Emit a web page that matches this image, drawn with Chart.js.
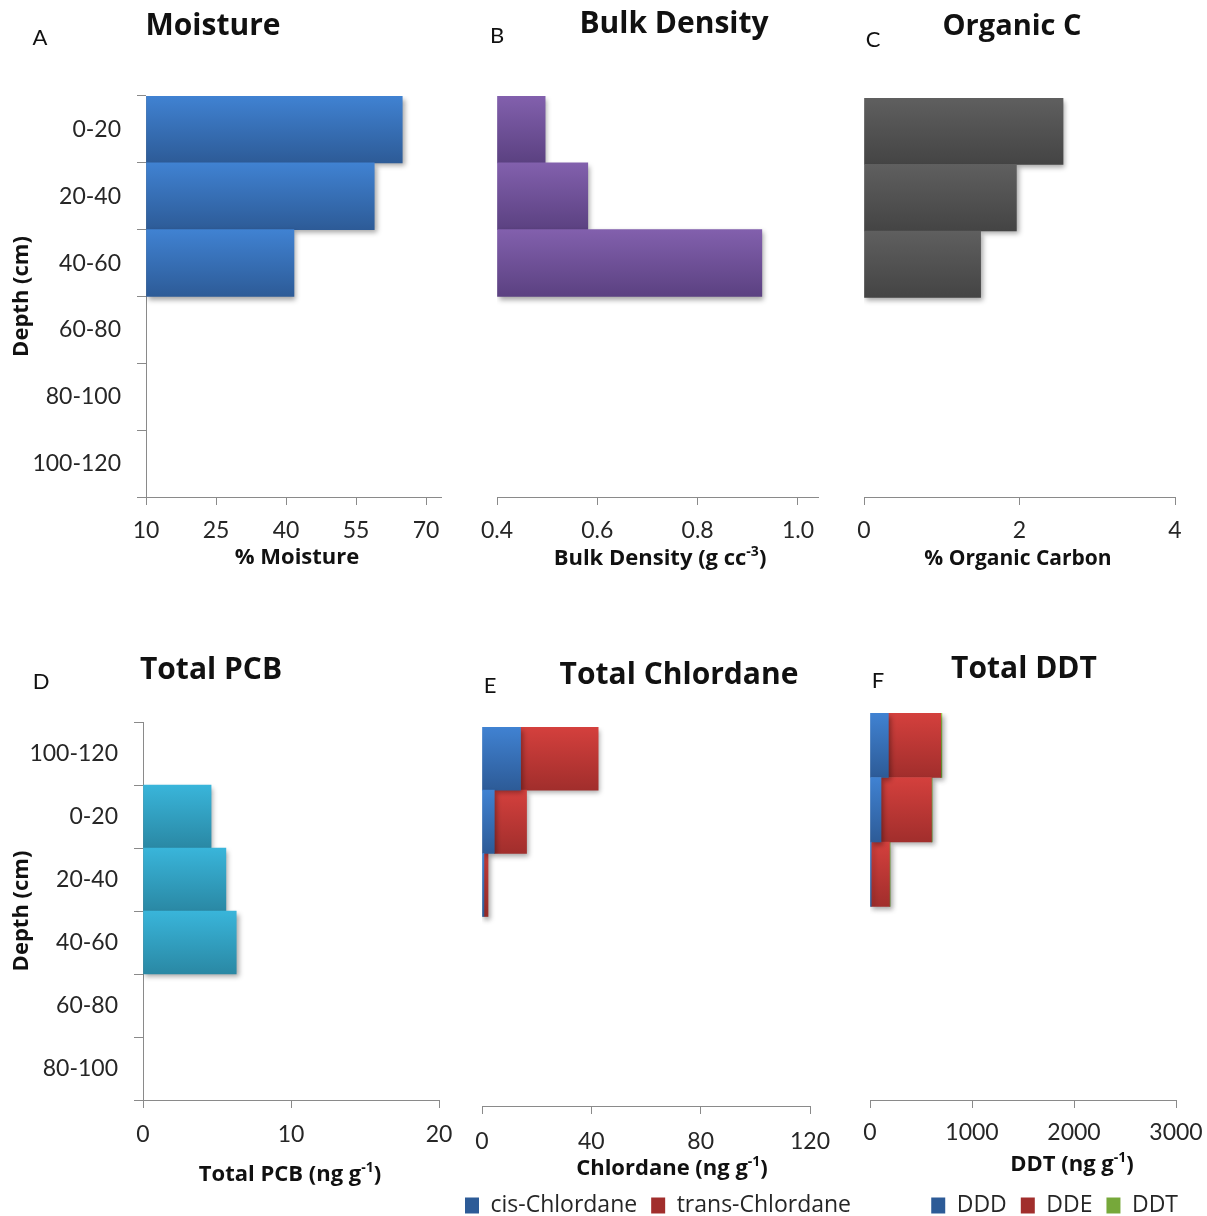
<!DOCTYPE html>
<html>
<head>
<meta charset="utf-8">
<title>Soil core profiles</title>
<script src="https://cdn.jsdelivr.net/npm/chart.js@4.4.0/dist/chart.umd.min.js"></script>
<style>
  html, body { margin: 0; padding: 0; background: #fff; width: 1207px; height: 1216px; overflow: hidden; position: relative; }
  canvas { position: absolute; display: block; }
</style>
</head>
<body>
<canvas id="panelA" width="460" height="600" style="left:0;top:0;width:460px;height:600px"></canvas>
<canvas id="panelB" width="380" height="600" style="left:460px;top:0;width:380px;height:600px"></canvas>
<canvas id="panelC" width="367" height="600" style="left:840px;top:0;width:367px;height:600px"></canvas>
<canvas id="panelD" width="470" height="596" style="left:0;top:620px;width:470px;height:596px"></canvas>
<canvas id="panelE" width="436" height="620" style="left:440px;top:620px;width:436px;height:620px"></canvas>
<canvas id="panelF" width="366" height="620" style="left:850px;top:620px;width:366px;height:620px"></canvas>
<script>
// ---- data ----
const depthLabels = ['0-20', '20-40', '40-60', '60-80', '80-100', '100-120'];
const pcbDepthLabels = ['100-120', '0-20', '20-40', '40-60', '60-80', '80-100'];

const moisture = [64.9, 58.9, 41.7, null, null, null];           // % moisture
const bulkDensity = [0.496, 0.581, 0.928, null, null, null];      // g cc-3
const organicCarbon = [2.56, 1.96, 1.50, null, null, null];       // %
const totalPCB = [null, 4.6, 5.6, 6.3, null, null];               // ng g-1
const cisChlordane = [14.1, 4.5, 0.7, null, null, null];          // ng g-1
const transChlordane = [28.4, 11.8, 1.5, null, null, null];       // ng g-1
const dddValues = [180, 108, 12, null, null, null];               // ng g-1
const ddeValues = [513, 494, 178, null, null, null];              // ng g-1
const ddtValues = [12, 8, 8, null, null, null];                   // ng g-1

const moistureTicks = [10, 25, 40, 55, 70];
const densityTicks = [0.4, 0.6, 0.8, 1.0];
const carbonTicks = [0, 2, 4];
const pcbTicks = [0, 10, 20];
const chlordaneTicks = [0, 40, 80, 120];
const ddtTicks = [0, 1000, 2000, 3000];

// ---- styling ----
const FONT = 'Lato, "Open Sans", "DejaVu Sans", sans-serif';
const BOLD_FONT = '"Open Sans", Lato, "DejaVu Sans", sans-serif';
const AXIS = '#8a8a8a';
const TICK = '#262626';
Chart.defaults.font.family = FONT;
Chart.defaults.color = TICK;
Chart.defaults.animation = false;

const BLUE = ['#4082d2', '#2d5b97'];
const PURPLE = ['#8260ad', '#5b4181'];
const GREY = ['#5f5f5f', '#444444'];
const CYAN = ['#39b5da', '#2a88a4'];
const RED = ['#d4403d', '#a12e2c'];
const GREEN = ['#9ed050', '#76a83a'];

// vertical shading across each bar's category band
function barFill(colors) {
  return (c) => {
    const chart = c.chart;
    const ys = chart.scales && chart.scales.y;
    if (!ys || c.dataIndex === undefined || !chart.chartArea) return colors[0];
    const center = ys.getPixelForValue(c.dataIndex);
    const half = Math.abs(ys.getPixelForValue(1) - ys.getPixelForValue(0)) / 2;
    const g = chart.ctx.createLinearGradient(0, center - half, 0, center + half);
    g.addColorStop(0, colors[0]);
    g.addColorStop(1, colors[1]);
    return g;
  };
}

// soft drop shadow under the bars
const barShadow = {
  id: 'barShadow',
  beforeDatasetsDraw(chart) {
    const ctx = chart.ctx;
    ctx.save();
    ctx.shadowColor = 'rgba(0,0,0,0.35)';
    ctx.shadowBlur = 5;
    ctx.shadowOffsetX = 2;
    ctx.shadowOffsetY = 3;
  },
  afterDatasetsDraw(chart) { chart.ctx.restore(); }
};

// panel titles, panel letters and axis titles (with superscripts)
function textPlugin(items) {
  return {
    id: 'panelText',
    afterDraw(chart) {
      const ctx = chart.ctx;
      items.forEach(it => {
        const parts = it.parts || [{ t: it.text }];
        const family = it.bold ? BOLD_FONT : FONT;
        const weight = it.bold ? '700 ' : '400 ';
        const fontFor = p => weight + Math.round(p.sup ? it.size * 0.62 : it.size) + 'px ' + family;
        ctx.save();
        ctx.fillStyle = it.color || '#111';
        ctx.textBaseline = 'middle';
        ctx.textAlign = 'left';
        let total = 0;
        const widths = parts.map(p => {
          ctx.font = fontFor(p);
          const w = ctx.measureText(p.t).width;
          total += w;
          return w;
        });
        let x = it.x - total / 2;
        parts.forEach((p, i) => {
          ctx.font = fontFor(p);
          ctx.fillText(p.t, x, p.sup ? it.y - it.size * 0.32 : it.y);
          x += widths[i];
        });
        ctx.restore();
      });
    }
  };
}

function barSet(label, data, colors, base) {
  const ds = {
    label: label,
    data: data,
    backgroundColor: barFill(colors),
    borderWidth: 0,
    barPercentage: 1,
    categoryPercentage: 1
  };
  if (base !== undefined) ds.base = base;
  return ds;
}

function valueAxis(min, max, tickValues, fmt, height, tickPad, stacked) {
  return {
    type: 'linear',
    min: min,
    max: max,
    stacked: !!stacked,
    afterBuildTicks: s => { s.ticks = tickValues.map(v => ({ value: v })); },
    grid: { drawOnChartArea: false, drawTicks: true, tickLength: 8, color: AXIS, lineWidth: 1 },
    border: { display: true, color: AXIS, width: 1 },
    ticks: { padding: tickPad, font: { size: 23 }, color: TICK, maxRotation: 0, autoSkip: false, callback: v => fmt(v) },
    afterFit: s => { s.height = height; }
  };
}

// labelled depth axis on the left
function depthAxis(width, stacked) {
  return {
    type: 'category',
    stacked: !!stacked,
    offset: true,
    grid: { offset: true, drawOnChartArea: false, drawTicks: true, tickLength: 9, color: AXIS, lineWidth: 1 },
    border: { display: true, color: AXIS, width: 1 },
    ticks: { padding: 16, font: { size: 23 }, color: TICK, autoSkip: false },
    title: { display: true, text: 'Depth (cm)', font: { family: BOLD_FONT, size: 22, weight: 'bold' }, color: '#111', padding: { top: 9, bottom: 0 } },
    afterFit: s => { s.width = width; }
  };
}

// unlabelled depth axis: keeps the bands, draws nothing, reserves a margin
function hiddenDepthAxis(width, stacked) {
  return {
    type: 'category',
    stacked: !!stacked,
    offset: true,
    grid: { display: false, drawTicks: false },
    border: { display: false },
    ticks: { display: false },
    afterFit: s => { s.width = width; }
  };
}

// empty right-hand margin so the value axis ends where it should
function rightMargin(width) {
  return {
    type: 'linear',
    axis: 'y',
    position: 'right',
    grid: { display: false, drawTicks: false },
    border: { display: false },
    ticks: { display: false },
    afterFit: s => { s.width = width; }
  };
}

const legendOpts = (align) => ({
  display: true,
  position: 'bottom',
  align: align,
  labels: { font: { family: BOLD_FONT, size: 23, weight: 'normal' }, color: TICK, boxWidth: 14, boxHeight: 16, padding: 14 }
});

function build(id, labels, datasets, scales, padding, texts, legend) {
  new Chart(document.getElementById(id), {
    type: 'bar',
    data: { labels: labels, datasets: datasets },
    options: {
      indexAxis: 'y',
      responsive: false,
      devicePixelRatio: 1,
      animation: false,
      layout: { padding: padding },
      scales: scales,
      plugins: {
        legend: legend || { display: false },
        title: { display: false },
        tooltip: { enabled: false }
      }
    },
    plugins: [barShadow, textPlugin(texts)]
  });
}

const int = v => String(v);
const oneDec = v => Number(v).toFixed(1);

// A: moisture
build('panelA', depthLabels,
  [barSet('% Moisture', moisture, BLUE, 10)],
  { x: valueAxis(10, 73.2, moistureTicks, int, 103, 12), y: depthAxis(146), gap: rightMargin(19) },
  { top: 96, right: 0, bottom: 0, left: 0 },
  [
    { text: 'A', x: 40, y: 38, size: 22 },
    { text: 'Moisture', x: 213, y: 26, size: 30, bold: true },
    { text: '% Moisture', x: 297, y: 558, size: 22, bold: true }
  ]);

// B: bulk density
build('panelB', depthLabels,
  [barSet('Bulk Density', bulkDensity, PURPLE, 0.4)],
  { x: valueAxis(0.4, 1.04, densityTicks, oneDec, 103, 12), y: hiddenDepthAxis(37), gap: rightMargin(22) },
  { top: 96, right: 0, bottom: 0, left: 0 },
  [
    { text: 'B', x: 37, y: 36, size: 22 },
    { text: 'Bulk Density', x: 214, y: 24, size: 30, bold: true },
    { parts: [{ t: 'Bulk Density (g cc' }, { t: '-3', sup: true }, { t: ')' }], x: 200, y: 559, size: 22, bold: true }
  ]);

// C: organic carbon
build('panelC', depthLabels,
  [barSet('% Organic Carbon', organicCarbon, GREY)],
  { x: valueAxis(0, 4, carbonTicks, int, 103, 12), y: hiddenDepthAxis(24), gap: rightMargin(32) },
  { top: 98, right: 0, bottom: 0, left: 0 },
  [
    { text: 'C', x: 33, y: 40, size: 22 },
    { text: 'Organic C', x: 1012 - 840, y: 27, size: 29, bold: true },
    { text: '% Organic Carbon', x: 178, y: 559, size: 21, bold: true }
  ]);

// D: total PCB
build('panelD', pcbDepthLabels,
  [barSet('Total PCB', totalPCB, CYAN)],
  { x: valueAxis(0, 20, pcbTicks, int, 116, 13), y: depthAxis(143), gap: rightMargin(31) },
  { top: 102, right: 0, bottom: 0, left: 0 },
  [
    { text: 'D', x: 41, y: 62, size: 22 },
    { text: 'Total PCB', x: 211, y: 50, size: 30, bold: true },
    { parts: [{ t: 'Total PCB (ng g' }, { t: '-1', sup: true }, { t: ')' }], x: 290, y: 555, size: 22, bold: true }
  ]);

// E: chlordane, stacked by isomer
build('panelE', depthLabels,
  [barSet('cis-Chlordane', cisChlordane, BLUE), barSet('trans-Chlordane', transChlordane, RED)],
  { x: valueAxis(0, 120, chlordaneTicks, int, 74, 14, true), y: hiddenDepthAxis(42, true), gap: rightMargin(66) },
  { top: 107, right: 0, bottom: 13, left: 0 },
  [
    { text: 'E', x: 50, y: 66, size: 22 },
    { text: 'Total Chlordane', x: 239, y: 55, size: 30, bold: true },
    { parts: [{ t: 'Chlordane (ng g' }, { t: '-1', sup: true }, { t: ')' }], x: 232, y: 549, size: 22, bold: true }
  ],
  legendOpts('center'));

// F: DDT family, stacked by compound
build('panelF', depthLabels,
  [barSet('DDD', dddValues, BLUE), barSet('DDE', ddeValues, RED), barSet('DDT', ddtValues, GREEN)],
  { x: valueAxis(0, 3000, ddtTicks, int, 80, 11, true), y: hiddenDepthAxis(15, true), gap: rightMargin(16) },
  { top: 93, right: 24, bottom: 13, left: 5 },
  [
    { text: 'F', x: 28, y: 61, size: 22 },
    { text: 'Total DDT', x: 174, y: 49, size: 30, bold: true },
    { parts: [{ t: 'DDT (ng g' }, { t: '-1', sup: true }, { t: ')' }], x: 222, y: 545, size: 22, bold: true }
  ],
  legendOpts('end'));
</script>
</body>
</html>
